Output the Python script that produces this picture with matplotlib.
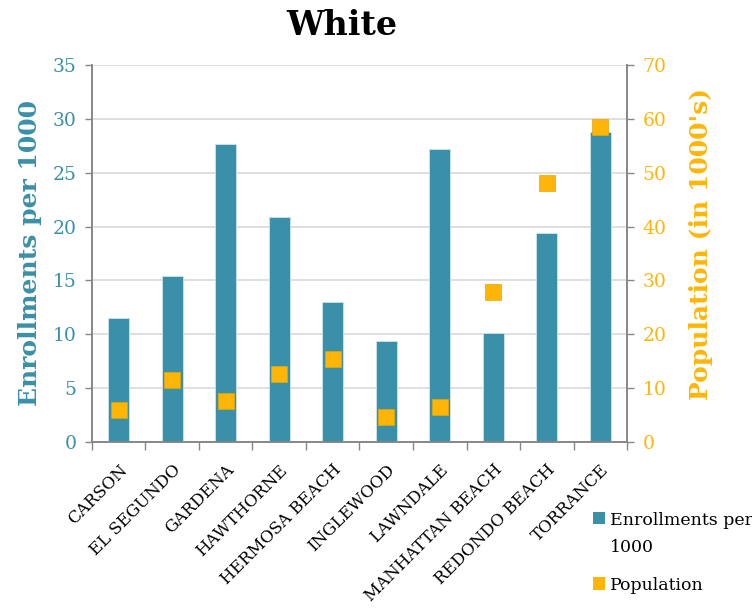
import numpy as np
import matplotlib
matplotlib.use('Agg')
import matplotlib.pyplot as plt
from matplotlib.patches import Rectangle

cities = ['CARSON', 'EL SEGUNDO', 'GARDENA', 'HAWTHORNE', 'HERMOSA BEACH',
          'INGLEWOOD', 'LAWNDALE', 'MANHATTAN BEACH', 'REDONDO BEACH', 'TORRANCE']
enrollments = [11.5, 15.4, 27.7, 20.9, 13.0, 9.4, 27.2, 10.1, 19.4, 28.8]
population = [6.0, 11.6, 7.6, 12.6, 15.4, 4.6, 6.5, 27.8, 48.0, 58.4]

TEAL = '#3A90A8'
GOLD = '#FFB508'
GREY = '#878787'

plt.rcParams['font.family'] = ['DejaVu Serif']

fig = plt.figure(figsize=(7.52, 6.16), dpi=100)
ax = fig.add_axes([0.1223, 0.2825, 0.7115, 0.612])
ax2 = ax.twinx()

x = np.arange(len(cities))
ax.bar(x, enrollments, width=0.4, color=TEAL, edgecolor='#CFE3EA', linewidth=0.6, zorder=3)
ax2.plot(x, population, 's', color=GOLD, markersize=11, markeredgecolor='#E5A800',
         markeredgewidth=0.5, zorder=4)

ax.set_xlim(-0.5, len(cities) - 0.5)
ax.set_ylim(0, 35)
ax2.set_ylim(0, 70)
ax.set_yticks(np.arange(0, 36, 5))
ax2.set_yticks(np.arange(0, 71, 10))
ax.yaxis.grid(True, color='#D9D9D9', linewidth=1.2, zorder=0)
ax.set_axisbelow(True)

# category labels at centres, tick marks at boundaries
ax.set_xticks(x)
ax.set_xticklabels(cities, rotation=45, ha='right', rotation_mode='anchor', fontsize=12)
ax.set_xticks(np.arange(-0.5, len(cities), 1), minor=True)
ax.tick_params(axis='x', which='major', length=0, pad=14)
ax.tick_params(axis='x', which='minor', length=6, color=GREY, width=1)

ax.tick_params(axis='y', colors=TEAL, labelsize=13.5, length=5, width=1, pad=6)
ax.tick_params(axis='y', color=GREY)
ax2.tick_params(axis='y', colors=GOLD, labelsize=13.5, length=5, width=1, pad=6)
ax2.tick_params(axis='y', color=GREY)

for a in (ax, ax2):
    a.spines['top'].set_visible(False)
    for s in ('left', 'right', 'bottom'):
        a.spines[s].set_color(GREY)
        a.spines[s].set_linewidth(1.2)

ax.set_ylabel('Enrollments per 1000', color=TEAL, fontsize=18, fontweight='bold', labelpad=8)
ax2.set_ylabel("Population (in 1000's)", color=GOLD, fontsize=18, fontweight='bold')
ax2.yaxis.set_label_coords(1.115, 0.525)

fig.text(0.455, 0.958, 'White', ha='center', va='center', fontsize=24, fontweight='bold')

# legend, laid out by hand below the right axis
fig.add_artist(Rectangle((0.7886, 0.1494), 0.016, 0.0195, transform=fig.transFigure,
                         facecolor=TEAL, edgecolor='none'))
fig.text(0.811, 1 - 525 / 616, 'Enrollments per', fontsize=12.5, va='baseline')
fig.text(0.811, 1 - 552 / 616, '1000', fontsize=12.5, va='baseline')
fig.add_artist(Rectangle((0.7886, 0.0422), 0.016, 0.0211, transform=fig.transFigure,
                         facecolor=GOLD, edgecolor='none'))
fig.text(0.811, 1 - 590 / 616, 'Population', fontsize=12.5, va='baseline')

fig.savefig('out.png', dpi=100)
